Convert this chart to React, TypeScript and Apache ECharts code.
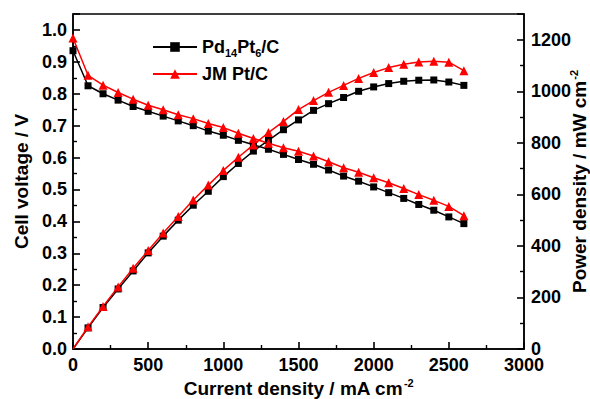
import React, { useEffect, useRef } from "react";
import * as echarts from "echarts";

// Current density (mA cm^-2)
const currentDensity = [
  0, 100, 200, 300, 400, 500, 600, 700, 800, 900, 1000, 1100, 1200, 1300,
  1400, 1500, 1600, 1700, 1800, 1900, 2000, 2100, 2200, 2300, 2400, 2500, 2600,
];

// Cell voltage (V)
const voltagePdPt = [
  0.935, 0.825, 0.8, 0.78, 0.76, 0.745, 0.73, 0.715, 0.7, 0.683, 0.67, 0.654,
  0.64, 0.626, 0.61, 0.594, 0.579, 0.561, 0.542, 0.526, 0.508, 0.49, 0.472,
  0.453, 0.435, 0.414, 0.393,
];
const voltageJM = [
  0.975, 0.858, 0.827, 0.804, 0.783, 0.764, 0.75, 0.734, 0.722, 0.707, 0.694,
  0.676, 0.66, 0.645, 0.631, 0.62, 0.605, 0.587, 0.568, 0.554, 0.537, 0.521,
  0.503, 0.484, 0.466, 0.447, 0.418,
];

// Power density (mW cm^-2)
const powerPdPt = [
  0, 82, 161, 233, 303, 373, 438, 500, 558, 612, 669, 720, 768, 810, 851, 889,
  926, 952, 976, 1000, 1017, 1030, 1039, 1043, 1044, 1036, 1023,
];
const powerJM = [
  0, 86, 165, 241, 313, 382, 450, 514, 578, 636, 693, 744, 792, 840, 883, 929,
  964, 996, 1023, 1050, 1073, 1092, 1105, 1114, 1117, 1113, 1080,
];

const seriesNames = ["Pd14Pt6/C", "JM Pt/C"];

const FONT = "'Liberation Sans', Arial, sans-serif";

const pairs = (ys: number[]) => currentDensity.map((x, i) => [x, ys[i]]);
// Power curves start at the origin without a marker
const powerPairs = (ys: number[]) =>
  currentDensity.map((x, i) =>
    i === 0 ? { value: [x, ys[i]], symbol: "none" } : [x, ys[i]]
  );

export default function App() {
  const ref = useRef<HTMLDivElement>(null);

  useEffect(() => {
    if (!ref.current) return;
    const chart = echarts.init(ref.current, null, { renderer: "svg" });

    const labelStyle = {
      color: "#000",
      fontFamily: FONT,
      fontWeight: "bold" as const,
      fontSize: 18,
    };

    const axisCommon = {
      nameMoveOverlap: false,
      axisLine: { show: true, onZero: false, lineStyle: { color: "#000", width: 1.5 } },
      axisTick: { show: true, inside: true, length: 7, lineStyle: { color: "#000", width: 1.6 } },
      minorTick: { show: true, splitNumber: 2, length: 4, lineStyle: { color: "#000", width: 1.4 } },
      splitLine: { show: false },
      nameTextStyle: {
        color: "#000",
        fontFamily: FONT,
        fontWeight: "bold" as const,
        fontSize: 19,
        rich: {
          sup: {
            color: "#000",
            fontFamily: FONT,
            fontWeight: "bold" as const,
            fontSize: 11,
            padding: [0, 0, 12, 1],
          },
        },
      },
    };

    const black = "#000000";
    const red = "#ff0000";

    chart.setOption({
      animation: false,
      grid: {
        left: 73,
        right: 66,
        top: 14,
        bottom: 50,
        outerBoundsMode: "none",
        containLabel: false,
        show: true,
        borderColor: "#000",
        borderWidth: 1.5,
        backgroundColor: "transparent",
        z: 0,
      },
      legend: {
        data: seriesNames,
        orient: "vertical",
        left: 147,
        top: 33,
        itemWidth: 44,
        itemHeight: 12,
        itemGap: 7,
        selectedMode: false,
        textStyle: {
          color: "#000",
          fontFamily: FONT,
          fontWeight: "bold",
          fontSize: 18,
          rich: {
            b: { color: "#000", fontFamily: FONT, fontWeight: "bold", fontSize: 18 },
            sub: {
              color: "#000",
              fontFamily: FONT,
              fontWeight: "bold",
              fontSize: 11,
              padding: [11, 0, 0, 0],
            },
          },
        },
        formatter: (name: string) =>
          name === "Pd14Pt6/C"
            ? "{b|Pd}{sub|14}{b|Pt}{sub|6}{b|/C}"
            : "{b|" + name + "}",
      },
      xAxis: {
        ...axisCommon,
        type: "value",
        min: 0,
        max: 3000,
        interval: 500,
        name: "Current density / mA cm{sup|-2}",
        nameLocation: "middle",
        nameGap: 28,
        axisLabel: { ...labelStyle, margin: 7, formatter: (v: number) => String(v) },
      },
      yAxis: [
        {
          ...axisCommon,
          type: "value",
          min: 0,
          max: 1.05,
          interval: 0.1,
          position: "left",
          name: "Cell voltage / V",
          nameLocation: "middle",
          nameGap: 42,
          axisLabel: {
            ...labelStyle,
            margin: 6,
            showMaxLabel: false,
            formatter: (v: number) => v.toFixed(1),
          },
        },
        {
          ...axisCommon,
          type: "value",
          min: 0,
          max: 1300,
          interval: 200,
          position: "right",
          name: "Power density / mW cm{sup|-2}",
          nameLocation: "middle",
          nameGap: 44,
          axisLabel: {
            ...labelStyle,
            margin: 7,
            showMaxLabel: false,
            formatter: (v: number) => String(v),
          },
        },
      ],
      series: [
        {
          name: seriesNames[0],
          type: "line",
          yAxisIndex: 0,
          data: pairs(voltagePdPt),
          symbol: "rect",
          symbolSize: 7,
          itemStyle: { color: black },
          lineStyle: { color: black, width: 1.5 },
        },
        {
          name: seriesNames[0],
          type: "line",
          yAxisIndex: 1,
          data: powerPairs(powerPdPt),
          symbol: "rect",
          symbolSize: 7,
          itemStyle: { color: black },
          lineStyle: { color: black, width: 1.5 },
        },
        {
          name: seriesNames[1],
          type: "line",
          yAxisIndex: 0,
          data: pairs(voltageJM),
          symbol: "triangle",
          symbolSize: 9,
          itemStyle: { color: red },
          lineStyle: { color: red, width: 1.5 },
        },
        {
          name: seriesNames[1],
          type: "line",
          yAxisIndex: 1,
          data: powerPairs(powerJM),
          symbol: "triangle",
          symbolSize: 9,
          itemStyle: { color: red },
          lineStyle: { color: red, width: 1.5 },
        },
      ],
    });

    return () => chart.dispose();
  }, []);

  return (
    <div
      ref={ref}
      style={{ position: "absolute", left: 0, top: 0, width: 590, height: 399, background: "#fff" }}
    />
  );
}
